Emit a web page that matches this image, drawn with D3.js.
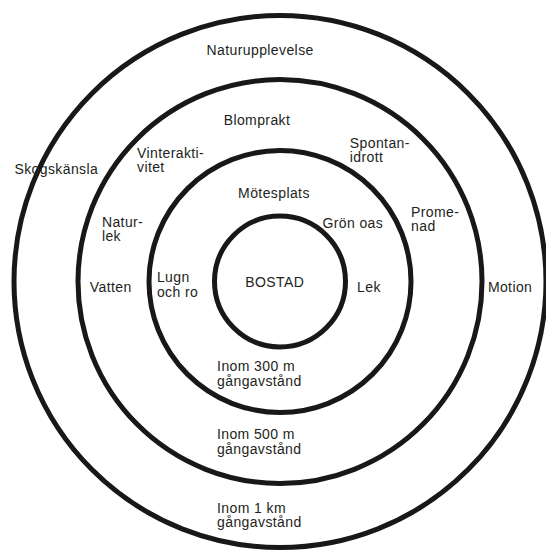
<!DOCTYPE html>
<html>
<head>
<meta charset="utf-8">
<script src="https://cdn.jsdelivr.net/npm/d3@7"></script>
<style>
  html, body { margin: 0; padding: 0; background: #fff; }
  svg text { font-family: "Liberation Sans", Arial, Helvetica, sans-serif; fill: #231f20; }
</style>
</head>
<body>
<svg id="chart" width="546" height="552"></svg>
<script>
// ---- data ----
// zones (rings), from the home outwards
const zoneNames = ["Bostad", "300 m", "500 m", "1 km"];
const zoneLabels = [
  ["BOSTAD"],
  ["Inom 300 m", "gångavstånd"],
  ["Inom 500 m", "gångavstånd"],
  ["Inom 1 km", "gångavstånd"]
];
// activities / qualities and the zone they belong to
const activityNames = [
  ["Mötesplats"], ["Grön oas"], ["Lek"], ["Lugn", "och ro"],
  ["Blomprakt"], ["Spontan-", "idrott"], ["Vinterakti-", "vitet"],
  ["Natur-", "lek"], ["Prome-", "nad"], ["Vatten"],
  ["Naturupplevelse"], ["Skogskänsla"], ["Motion"]
];
const activityZones = [1, 1, 1, 1, 2, 2, 2, 2, 2, 2, 3, 3, 3];

// ---- layout (placement of labels: angle clockwise from top in degrees, radial position in zone units, anchor) ----
const zoneLabelLayout = [
  { angle: -90, r: 0.08, anchor: "middle" },
  { angle: 214.4, r: 1.70, anchor: "start" },
  { angle: 201.5, r: 2.58, anchor: "start" },
  { angle: 195.1, r: 3.62, anchor: "start" }
];
const activityLayout = [
  { angle: -3.9, r: 1.36, anchor: "middle" },
  { angle: 51.0, r: 1.43, anchor: "middle" },
  { angle: 93.5, r: 1.36, anchor: "middle" },
  { angle: -91.4, r: 1.88, anchor: "start" },
  { angle: -8.1, r: 2.46, anchor: "middle" },
  { angle: 28.0, r: 2.25, anchor: "start" },
  { angle: -49.6, r: 2.80, anchor: "start" },
  { angle: -73.6, r: 2.77, anchor: "start" },
  { angle: 64.5, r: 2.20, anchor: "start" },
  { angle: -92.0, r: 2.54, anchor: "middle" },
  { angle: -4.9, r: 3.48, anchor: "middle" },
  { angle: -63.2, r: 3.76, anchor: "middle" },
  { angle: 91.4, r: 3.44, anchor: "middle" }
];

const W = 546, H = 552;
const cx = 280, cy = 281.5;
const fontSize = 14, lineH = 14.5;

const svg = d3.select("#chart");
const g = svg.append("g").attr("transform", `translate(${cx},${cy})`);

// radial scale: zone boundary index -> radius
const rScale = d3.scaleLinear()
  .domain([0, 1, 2, 3, 4])
  .range([0, 65.5, 131, 202, 266]);

// ring boundaries (outer edge of each zone)
g.selectAll("circle.ring")
  .data(zoneNames)
  .join("circle")
  .attr("class", "ring")
  .attr("r", (d, i) => rScale(i + 1))
  .attr("fill", "none")
  .attr("stroke", "#1a1718")
  .attr("stroke-width", 5);

function polar(l) {
  const a = l.angle * Math.PI / 180;
  const rr = rScale(l.r);
  return [rr * Math.sin(a), -rr * Math.cos(a)];
}

function drawLabels(names, layout, cls) {
  const items = names.map((lines, i) => ({ lines, layout: layout[i] }));
  g.selectAll("text." + cls)
    .data(items)
    .join("text")
    .attr("class", cls)
    .attr("font-size", fontSize)
    .attr("letter-spacing", 0.4)
    .attr("text-anchor", d => d.layout.anchor)
    .each(function(d) {
      const [x, y] = polar(d.layout);
      const n = d.lines.length;
      const y0 = y - (n - 1) * lineH / 2 + fontSize * 0.36;
      d3.select(this).selectAll("tspan")
        .data(d.lines)
        .join("tspan")
        .attr("x", x)
        .attr("y", (s, k) => y0 + k * lineH)
        .text(s => s);
    });
}

drawLabels(zoneLabels, zoneLabelLayout, "zone");
drawLabels(activityNames, activityLayout, "activity");
</script>
</body>
</html>
